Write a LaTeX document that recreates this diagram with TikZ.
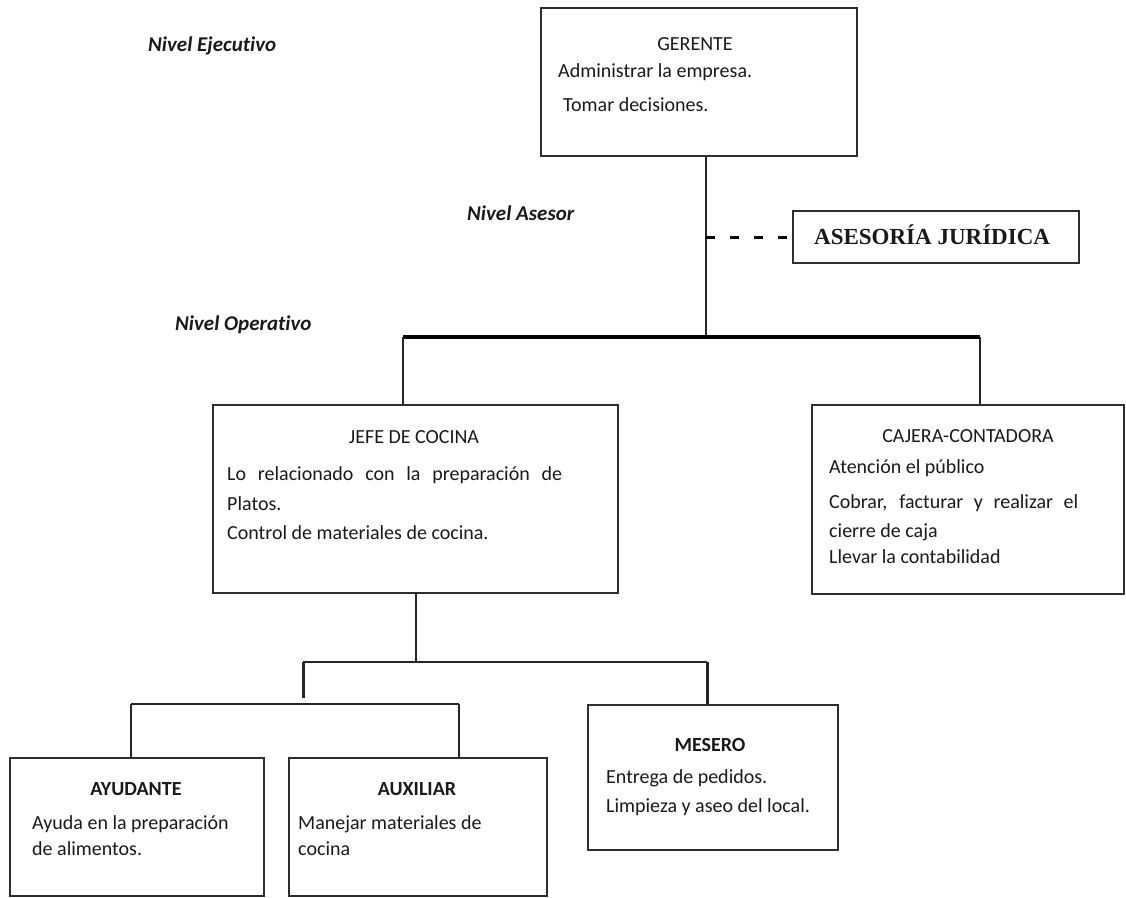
\documentclass[tikz,border=0pt]{standalone}
\usepackage{fontspec}
\setmainfont{Carlito}[Ligatures=NoCommon]
\newfontfamily\timesfont{Liberation Serif}
\definecolor{boxgray}{HTML}{2E2E2E}
\definecolor{linegray}{HTML}{262626}
\definecolor{ink}{HTML}{1A1A1A}
\begin{document}
\begin{tikzpicture}[x=1pt,y=-1pt,
  box/.style={draw=boxgray, line width=2pt, anchor=north west, inner sep=0pt, fill=white},
  conn/.style={draw=linegray, line width=1.6pt},
  heavy/.style={draw=linegray, line width=3pt},
  bar/.style={draw=black, line width=4.5pt},
  body/.style={anchor=base west, inner sep=0pt, font=\fontsize{20}{24}\selectfont, text=ink},
  head/.style={anchor=base, inner sep=0pt, font=\fontsize{20}{24}\selectfont, text=ink},
  headbf/.style={head, font=\fontsize{20}{24}\selectfont\bfseries},
  level/.style={anchor=base west, inner sep=0pt, font=\fontsize{21}{25}\selectfont\bfseries\itshape, text=ink}]
\useasboundingbox (0,0) rectangle (1126,897);

% level labels
\node[level] (lvE) at (148,51) {Nivel Ejecutivo};
\node[level] (lvA) at (467,220) {Nivel Asesor};
\node[level] (lvO) at (175,330) {Nivel Operativo};

% junction points
\coordinate (trunk) at (706,337);
\coordinate (barL) at (403,337);
\coordinate (barR) at (980,337);
\coordinate (kdrop) at (416,662);
\coordinate (kL) at (303,662);
\coordinate (kR) at (707,662);
\coordinate (aL) at (131,704);
\coordinate (aR) at (459,704);
\coordinate (aM) at (303,704);

% boxes
\node[box, minimum width=316pt, minimum height=148pt] (ger) at (540,7) {};
\node[box, minimum width=286pt, minimum height=52pt] (ase) at (792,210) {};
\node[box, minimum width=405pt, minimum height=188pt] (jefe) at (212,404) {};
\node[box, minimum width=312pt, minimum height=189pt] (caj) at (811,404) {};
\node[box, minimum width=254pt, minimum height=138pt] (ayu) at (9,757) {};
\node[box, minimum width=258pt, minimum height=138pt] (aux) at (288,757) {};
\node[box, minimum width=250pt, minimum height=145pt] (mes) at (587,704) {};

% connectors
\draw[conn] (trunk |- ger.south) -- (trunk);
\draw[line width=3pt, draw=black, dash pattern=on 9pt off 15pt] (trunk |- ase.west) -- (ase.west);
\draw[bar] (barL) -- (barR);
\draw[conn] (barL) -- (barL |- jefe.north);
\draw[conn] (barR) -- (barR |- caj.north);
\draw[conn] (kdrop |- jefe.south) -- (kdrop);
\draw[conn] (kL) -- (kR);
\draw[heavy] (kL) -- ([yshift=6pt]aM);
\draw[heavy] (kR) -- (kR |- mes.north);
\draw[conn] (aL) -- (aR);
\draw[conn] (aL) -- (aL |- ayu.north);
\draw[conn] (aR) -- (aR |- aux.north);

% GERENTE
\node[head] (gerT) at (695,50) {GERENTE};
\node[body] (gerA) at (558,77) {Administrar la empresa.};
\node[body] (gerB) at (563,111) {Tomar decisiones.};

% ASESORÍA JURÍDICA
\node[anchor=base west, inner sep=0pt, text=ink, font=\timesfont\fontsize{23}{27}\selectfont\bfseries] (aseT) at (814,244) {ASESORÍA JURÍDICA};

% JEFE DE COCINA
\node[head] (jefeT) at (414,443) {JEFE DE COCINA};
\node[body] (jefeA) at (227,480) {\makebox[335pt][s]{Lo relacionado con la preparación de}};
\node[body] (jefeB) at (227,510) {Platos.};
\node[body] (jefeC) at (227,539) {Control de materiales de cocina.};

% CAJERA-CONTADORA
\node[head] (cajT) at (968,442) {CAJERA-CONTADORA};
\node[body] (cajA) at (829,473) {Atención el público};
\node[body] (cajB) at (829,508) {\makebox[249pt][s]{Cobrar, facturar y realizar el}};
\node[body] (cajC) at (829,537) {cierre de caja};
\node[body] (cajD) at (829,563) {Llevar la contabilidad};

% AYUDANTE
\node[headbf] (ayuT) at (136,795) {AYUDANTE};
\node[body] (ayuA) at (32,829) {Ayuda en la preparación};
\node[body] (ayuB) at (32,855) {de alimentos.};

% AUXILIAR
\node[headbf] (auxT) at (417,795) {AUXILIAR};
\node[body] (auxA) at (298,829) {Manejar materiales de};
\node[body] (auxB) at (298,855) {cocina};

% MESERO
\node[headbf] (mesT) at (710,751) {MESERO};
\node[body] (mesA) at (606,783) {Entrega de pedidos.};
\node[body] (mesB) at (606,812) {Limpieza y aseo del local.};
\end{tikzpicture}
\end{document}
